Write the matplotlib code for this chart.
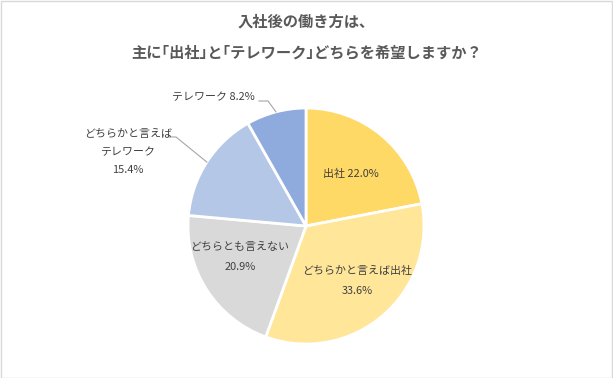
import matplotlib
matplotlib.use("Agg")
import matplotlib.pyplot as plt
from matplotlib.patches import Rectangle
import numpy as np

plt.rcParams['font.family'] = ['Noto Sans CJK JP', 'DejaVu Sans']

title = "入社後の働き方は、\n主に｢出社｣と｢テレワーク｣どちらを希望しますか？"
categories = ["出社", "どちらかと言えば出社", "どちらとも言えない", "どちらかと言えば\nテレワーク", "テレワーク"]
values = [22.0, 33.6, 20.9, 15.4, 8.2]
colors = ["#FFD966", "#FFE699", "#D9D9D9", "#B4C7E7", "#8FAADC"]

W, H = 613, 378
fig = plt.figure(figsize=(W / 100, H / 100), dpi=100)
ax = fig.add_axes([0, 0, 1, 1])
ax.set_xlim(0, W)
ax.set_ylim(0, H)
ax.set_aspect('equal')
ax.axis('off')

cx, cy, r = 306, H - 226, 118
wedges, _ = ax.pie(values, colors=colors, startangle=90, counterclock=False,
                   center=(cx, cy), radius=r,
                   wedgeprops=dict(edgecolor='white', linewidth=2))
ax.set_xlim(0, W)
ax.set_ylim(0, H)

tc = "#404040"
fs = 7.9
# label layout (pixel positions, top-origin)
inside_pos = {0: (351, 174), 1: (357, 281), 2: (240, 257)}
for i, (px, py) in inside_pos.items():
    name = categories[i]
    sep = " " if i == 0 else "\n"
    ax.text(px, H - py, f"{name}{sep}{values[i]:.1f}%", ha='center', va='center',
            fontsize=fs, color=tc, linespacing=2.25)

# outside labels with leader lines
outside = {4: ((213, 97), (259, 101), (268, 101)),
           3: ((128, 152), (169, 137), (176, 137))}
for i, ((lx, ly), (sx, sy), (ex, ey)) in outside.items():
    name = categories[i]
    sep = " " if i == 4 else "\n"
    ax.text(lx, H - ly, f"{name}{sep}{values[i]:.1f}%", ha='center', va='center',
            fontsize=fs, color=tc, linespacing=2.05)
    w = wedges[i]
    mid = np.deg2rad((w.theta1 + w.theta2) / 2)
    px, py = cx + r * np.cos(mid), cy + r * np.sin(mid)
    ax.plot([sx, ex, px], [H - sy, H - ey, py], color="#A6A6A6", lw=0.8)

fig.text(0.5, 1 - 37 / H, title, ha='center', va='center', fontsize=11,
         fontweight='bold', color="#595959", linespacing=2.1)

fig.patches.append(Rectangle((0.5 / W, 0.5 / H), 1 - 1.5 / W, 1 - 1.5 / H,
                             transform=fig.transFigure, fill=False,
                             edgecolor="#D9D9D9", lw=1))

fig.savefig("out.png", dpi=100)
